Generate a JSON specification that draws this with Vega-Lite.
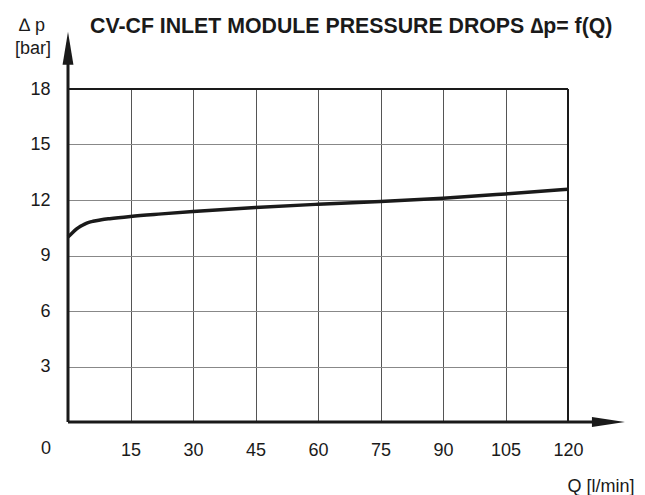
{
  "$schema": "https://vega.github.io/schema/vega-lite/v6.json",
  "width": 500,
  "height": 333,
  "autosize": {"type": "none"},
  "padding": {"left": 68, "top": 89, "right": 77, "bottom": 73},
  "background": "white",
  "config": {"view": {"stroke": null}, "font": "Liberation Sans"},
  "layer": [
    {
      "data": {"values": [
        {"Q": 0, "dp": 10.0},
        {"Q": 1, "dp": 10.22},
        {"Q": 2, "dp": 10.42},
        {"Q": 3, "dp": 10.58},
        {"Q": 4, "dp": 10.7},
        {"Q": 5, "dp": 10.79},
        {"Q": 6, "dp": 10.85},
        {"Q": 8, "dp": 10.93},
        {"Q": 10, "dp": 10.99},
        {"Q": 15, "dp": 11.11},
        {"Q": 22.5, "dp": 11.25},
        {"Q": 30, "dp": 11.38},
        {"Q": 45, "dp": 11.6},
        {"Q": 60, "dp": 11.77},
        {"Q": 75, "dp": 11.92},
        {"Q": 90, "dp": 12.1},
        {"Q": 105, "dp": 12.33},
        {"Q": 120, "dp": 12.58}
      ]},
      "mark": {"type": "line", "interpolate": "monotone", "color": "#1a1a1a", "strokeWidth": 3.5},
      "encoding": {
        "x": {
          "field": "Q", "type": "quantitative",
          "scale": {"domain": [0, 120], "nice": false, "zero": false},
          "axis": {
            "title": "Q [l/min]",
            "values": [15, 30, 45, 60, 75, 90, 105, 120],
            "grid": true, "gridColor": "#555555", "gridWidth": 1, "gridOpacity": 1,
            "domain": false, "ticks": false,
            "labelFontSize": 18, "labelColor": "#1a1a1a", "labelPadding": 19,
            "labelFlush": false, "labelOverlap": false, "labelBound": false,
            "titleFontSize": 18, "titleFontWeight": "normal", "titleColor": "#1a1a1a",
            "titleX": 566, "titleY": 69, "titleAlign": "right", "titleBaseline": "alphabetic", "titleAnchor": null
          }
        },
        "y": {
          "field": "dp", "type": "quantitative",
          "scale": {"domain": [0, 18], "nice": false, "zero": false},
          "axis": {
            "title": null,
            "values": [3, 6, 9, 12, 15, 18],
            "grid": true, "gridColor": "#888888", "gridWidth": 1, "gridOpacity": 1,
            "domain": false, "ticks": false,
            "labelFontSize": 18, "labelColor": "#1a1a1a", "labelPadding": 18,
            "labelFlush": false, "labelOverlap": false, "labelBound": false
          }
        }
      }
    },
    {
      "data": {"values": [{}]},
      "mark": {"type": "rule", "color": "#1a1a1a", "strokeWidth": 2},
      "encoding": {
        "x": {"datum": 120, "type": "quantitative"},
        "y": {"datum": 0, "type": "quantitative"},
        "y2": {"datum": 18}
      }
    },
    {
      "data": {"values": [{}]},
      "mark": {"type": "rule", "color": "#1a1a1a", "strokeWidth": 2},
      "encoding": {
        "x": {"datum": 0, "type": "quantitative"},
        "x2": {"datum": 120},
        "y": {"datum": 18, "type": "quantitative"}
      }
    },
    {
      "data": {"values": [{}]},
      "mark": {"type": "rule", "color": "#1a1a1a", "strokeWidth": 3},
      "encoding": {
        "x": {"datum": 0, "type": "quantitative"},
        "x2": {"datum": 126.5},
        "y": {"datum": 0, "type": "quantitative"}
      }
    },
    {
      "data": {"values": [{}]},
      "mark": {"type": "rule", "color": "#1a1a1a", "strokeWidth": 3},
      "encoding": {
        "x": {"datum": 0, "type": "quantitative"},
        "y": {"datum": 0, "type": "quantitative"},
        "y2": {"datum": 19.4}
      }
    },
    {
      "data": {"values": [{}]},
      "mark": {"type": "point", "filled": true, "opacity": 1, "strokeWidth": 0, "color": "#1a1a1a",
               "shape": "M -1 -0.3 L 1 0 L -1 0.3 Z", "size": 1089},
      "encoding": {
        "x": {"datum": 129.7, "type": "quantitative"},
        "y": {"datum": 0, "type": "quantitative"}
      }
    },
    {
      "data": {"values": [{}]},
      "mark": {"type": "point", "filled": true, "opacity": 1, "strokeWidth": 0, "color": "#1a1a1a",
               "shape": "M -0.33 1 L 0 -1 L 0.33 1 Z", "size": 1089},
      "encoding": {
        "x": {"datum": 0, "type": "quantitative"},
        "y": {"datum": 20.2, "type": "quantitative"}
      }
    },
    {
      "data": {"values": [{}]},
      "mark": {"type": "text", "text": "0", "align": "center", "baseline": "middle",
               "fontSize": 18, "color": "#1a1a1a", "dx": -22, "dy": 27},
      "encoding": {
        "x": {"datum": 0, "type": "quantitative"},
        "y": {"datum": 0, "type": "quantitative"}
      }
    },
    {
      "data": {"values": [{}]},
      "mark": {"type": "text", "text": "CV-CF INLET MODULE PRESSURE DROPS ∆p= f(Q)", "align": "left", "baseline": "alphabetic",
               "fontSize": 21.3, "fontWeight": "bold", "color": "#1a1a1a", "dx": 22, "dy": -56.5},
      "encoding": {
        "x": {"datum": 0, "type": "quantitative"},
        "y": {"datum": 18, "type": "quantitative"}
      }
    },
    {
      "data": {"values": [{}]},
      "mark": {"type": "text", "text": "∆ p", "align": "center", "baseline": "alphabetic",
               "fontSize": 18, "color": "#1a1a1a", "dx": -36, "dy": -57.6},
      "encoding": {
        "x": {"datum": 0, "type": "quantitative"},
        "y": {"datum": 18, "type": "quantitative"}
      }
    },
    {
      "data": {"values": [{}]},
      "mark": {"type": "text", "text": "[bar]", "align": "center", "baseline": "alphabetic",
               "fontSize": 18, "color": "#1a1a1a", "dx": -35, "dy": -35.3},
      "encoding": {
        "x": {"datum": 0, "type": "quantitative"},
        "y": {"datum": 18, "type": "quantitative"}
      }
    }
  ]
}
